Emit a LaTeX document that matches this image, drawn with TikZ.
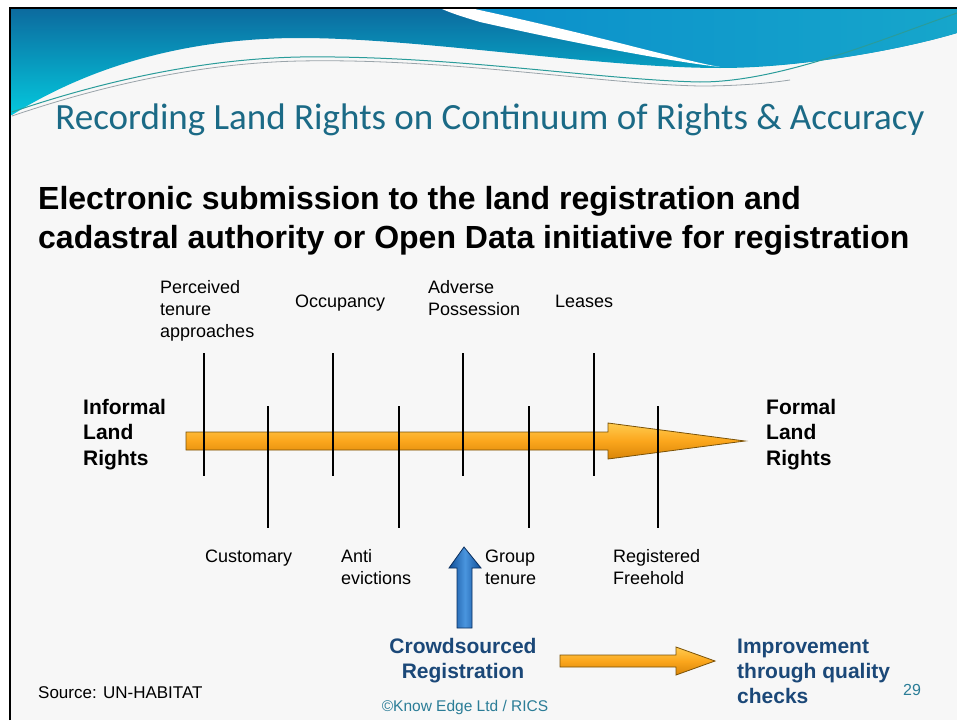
\documentclass[tikz,border=0pt]{standalone}
\usepackage{fontspec}
\setmainfont{Liberation Sans}
\newfontfamily\titlefont{Carlito}
\definecolor{titleteal}{HTML}{1B6A86}
\definecolor{navytext}{HTML}{1B4878}
\definecolor{copyteal}{HTML}{2B7D97}
\definecolor{bggray}{HTML}{F7F7F7}
\definecolor{arrowedge}{HTML}{7A5208}
\definecolor{orlight}{HTML}{FFCB4F}
\definecolor{ormid}{HTML}{FBA61C}
\definecolor{ordark}{HTML}{D98508}
\definecolor{bluedark}{HTML}{0F4E98}
\definecolor{bluelight}{HTML}{4A95DE}
\definecolor{blueedge}{HTML}{0B2F5E}
\definecolor{hdrtop}{HTML}{0C6A9E}
\definecolor{hdrbot}{HTML}{04C8DD}
\definecolor{hdrright}{HTML}{16A6CB}
\definecolor{hdrright2}{HTML}{0B8FCB}
\definecolor{swline}{HTML}{2A9C9A}
\definecolor{swgray}{HTML}{9AA4AA}
\begin{document}
\begin{tikzpicture}[x=1pt,y=-1pt,
  lbl/.style={inner sep=0pt, align=left, font=\fontsize{18}{22}\selectfont},
  side/.style={inner sep=0pt, align=left, font=\fontsize{21}{25.5}\selectfont\bfseries},
  navybold/.style={inner sep=0pt, text=navytext, font=\fontsize{21}{25}\selectfont\bfseries},
  tick/.style={line width=1.6pt, black},
  orarrow/.style={top color=orlight, bottom color=ordark, middle color=ormid, draw=arrowedge, line width=0.8pt},
  bluearrow/.style={left color=bluedark, right color=bluedark, middle color=bluelight, draw=blueedge, line width=0.8pt}]
\useasboundingbox (0,0) rectangle (957,720);
\fill[white] (0,0) rectangle (957,720);
\fill[bggray] (10,8) rectangle (957,720);
% header band
\shade[top color=hdrtop, bottom color=hdrbot]
  (10,8) -- (957,8) -- (957,33)
  .. controls (900,50) and (800,68) .. (720,68)
  .. controls (600,68) and (420,38) .. (300,38)
  .. controls (200,38) and (100,60) .. (12,115) -- (10,115) -- cycle;
% right lighter region
\shade[left color=hdrright2, right color=hdrright]
  (470,8) -- (957,8) -- (957,33)
  .. controls (900,50) and (800,68) .. (720,67)
  .. controls (680,60) and (600,36) .. (470,8) -- cycle;
% white stripe
\fill[white]
  (440,8) -- (470,8)
  .. controls (600,36) and (680,60) .. (720,67)
  .. controls (660,60) and (560,40) .. (480,22)
  .. controls (460,16) and (448,12) .. (440,8) -- cycle;
% thin swoosh lines
\draw[swgray, line width=0.8pt] (12,116) .. controls (100,86) and (200,63) .. (300,61)
  .. controls (450,58) and (600,84) .. (700,86) .. controls (740,86) and (770,83) .. (790,80);
\draw[swline, line width=1pt] (12,112) .. controls (100,82) and (200,59) .. (300,57)
  .. controls (450,55) and (600,80) .. (700,82) .. controls (780,82) and (880,40) .. (957,13);
% border
\draw[black, line width=2.5pt] (10,720) -- (10,8) -- (957,8);
% title
\node[inner sep=0pt, anchor=base, text=titleteal, font=\titlefont\fontsize{37}{42}\selectfont] (title) at (490,129) {Recording Land Rights on Continuum of Rights \& Accuracy};
% subtitle
\node[inner sep=0pt, anchor=base west, align=left, font=\fontsize{32}{39}\selectfont\bfseries] (sub) at (38,248) {Electronic submission to the land registration and\\cadastral authority or Open Data initiative for registration};
% main arrow
\path[orarrow] (186,432) -- (608,432) -- (608,423) -- (745,441) -- (608,459) -- (608,450) -- (186,450) -- cycle;
% ticks
\foreach \x/\n in {204/t1,333/t2,463/t3,594/t4}{
  \coordinate (\n a) at (\x,353); \coordinate (\n b) at (\x,476);
  \draw[tick] (\n a) -- (\n b);}
\foreach \x/\n in {268/b1,399/b2,529/b3,658/b4}{
  \coordinate (\n a) at (\x,406); \coordinate (\n b) at (\x,528);
  \draw[tick] (\n a) -- (\n b);}
% labels above (anchor = baseline of last line)
\node[lbl, anchor=base west] (perc) at (160,337) {Perceived\\tenure\\approaches};
\node[lbl, anchor=base west] (occ) at (295,307) {Occupancy};
\node[lbl, anchor=base west] (adv) at (428,315) {Adverse\\Possession};
\node[lbl, anchor=base west] (lea) at (555,307) {Leases};
% labels below
\node[lbl, anchor=base west] (cust) at (205,562) {Customary};
\node[lbl, anchor=base west] (anti) at (341,584) {Anti\\evictions};
\node[lbl, anchor=base west] (grp) at (485,584) {Group\\tenure};
\node[lbl, anchor=base west] (reg) at (613,584) {Registered\\Freehold};
% side labels
\node[side, anchor=base west] (inf) at (83,465) {Informal\\Land\\Rights};
\node[side, anchor=base west] (form) at (766,465) {Formal\\Land\\Rights};
% blue arrow
\path[bluearrow] (457,628) -- (457,568) -- (449,568) -- (464,547) -- (481,568) -- (472,568) -- (472,628) -- cycle;
% bottom
\node[navybold, anchor=base, align=center] (crowd) at (463,678) {Crowdsourced\\Registration};
\path[orarrow] (560,655) -- (676,655) -- (676,647) -- (715,661) -- (676,675) -- (676,667) -- (560,667) -- cycle;
\node[navybold, anchor=base west, align=left] (impr) at (737,703) {Improvement\\through quality\\checks};
\node[inner sep=0pt, anchor=base west, text=copyteal, font=\fontsize{16}{18}\selectfont] (pg) at (903,695) {29};
\node[inner sep=0pt, anchor=base, text=copyteal, font=\fontsize{15.5}{18}\selectfont] (copy) at (465,711) {©Know Edge Ltd / RICS};
\node[inner sep=0pt, anchor=base west, font=\fontsize{17}{20}\selectfont] (src) at (38,698) {Source: UN-HABITAT};
\end{tikzpicture}
\end{document}
